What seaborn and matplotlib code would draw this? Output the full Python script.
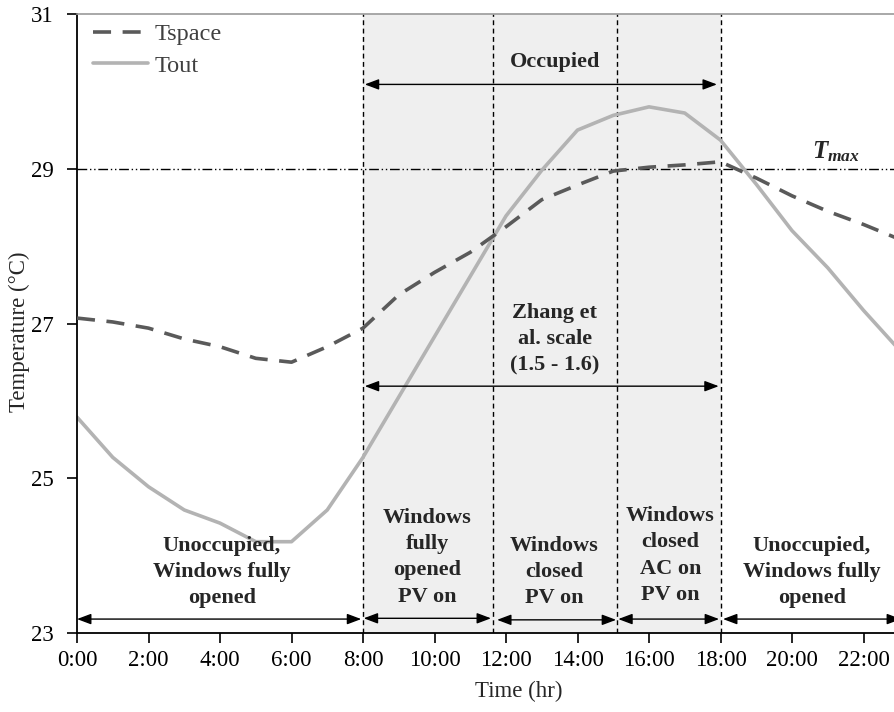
import matplotlib
matplotlib.use("Agg")
import matplotlib.pyplot as plt
import seaborn as sns
import pandas as pd

# ---- data ----
hours = list(range(24))
tspace = [27.07, 27.02, 26.94, 26.80, 26.70, 26.55, 26.50, 26.70, 26.94, 27.37,
          27.66, 27.92, 28.25, 28.60, 28.79, 28.97, 29.02, 29.05, 29.09, 28.88,
          28.65, 28.45, 28.28, 28.09]
tout = [25.79, 25.27, 24.89, 24.59, 24.42, 24.18, 24.18, 24.59, 25.27, 26.05,
        26.83, 27.61, 28.39, 28.98, 29.50, 29.69, 29.80, 29.72, 29.37, 28.80,
        28.20, 27.72, 27.17, 26.66]
xtick_pos = list(range(0, 24, 2))
xtick_labels = [f"{h}:00" for h in xtick_pos]
ytick_pos = [23, 25, 27, 29, 31]
t_max = 29
phase_bounds = [8, 11.65, 15.1, 18]
occupied = (8, 18)

sns.set_style("ticks")
plt.rcParams['font.family'] = ['Liberation Serif', 'DejaVu Serif']
plt.rcParams['mathtext.fontset'] = 'custom'
plt.rcParams['mathtext.it'] = 'Liberation Serif:italic:bold'
plt.rcParams['mathtext.rm'] = 'Liberation Serif'

fig = plt.figure(figsize=(8.94, 7.12), dpi=100)
ax = fig.add_axes([77/894, 79/712, 858/894, 619/712])

ax.axvspan(occupied[0], occupied[1], color='#efefef', zorder=0, lw=0)
for xb in phase_bounds:
    ax.axvline(xb, color='black', lw=1.0, linestyle=(0, (3.5, 2.5)), zorder=1)
ax.axhline(t_max, color='black', lw=1.0, linestyle=(0, (7, 2, 1, 2, 1, 2)), zorder=1)

df = pd.DataFrame({'hour': hours, 'Tspace': tspace, 'Tout': tout})
sns.lineplot(data=df, x='hour', y='Tspace', ax=ax, color='#5a5a5a', lw=2.6,
             linestyle=(0, (5, 3.2)), label='Tspace', zorder=3)
sns.lineplot(data=df, x='hour', y='Tout', ax=ax, color='#b3b3b3', lw=2.6,
             label='Tout', zorder=2)

ax.set_xlim(0, 24)
ax.set_ylim(23, 31)
ax.set_xticks(xtick_pos)
ax.set_xticklabels(xtick_labels)
ax.set_yticks(ytick_pos)
ax.tick_params(axis='both', direction='out', length=7, width=1.2, labelsize=16.5,
               colors='black')
ax.tick_params(axis='y', pad=10)
ax.tick_params(axis='x', pad=5)

ax.spines['right'].set_visible(False)
ax.spines['top'].set_color('#9a9a9a')
ax.spines['top'].set_linewidth(1.2)
for s in ['left', 'bottom']:
    ax.spines[s].set_color('black')
    ax.spines[s].set_linewidth(1.3)

ax.set_xlabel('Time (hr)', fontsize=16.5)
ax.set_ylabel('Temperature (°C)', fontsize=16.5)
ax.xaxis.set_label_coords(0.515, -0.077)
ax.yaxis.set_label_coords(-0.055, 0.486)

leg = ax.legend(loc='upper left', bbox_to_anchor=(0.0186, 0.985), frameon=False,
                fontsize=17.5, handlelength=2.25, handletextpad=0.3,
                borderpad=0, borderaxespad=0, labelspacing=0.38)
for t in leg.get_texts():
    t.set_color('#404040')

arrow_kw = dict(arrowstyle='<|-|>,head_length=0.85,head_width=0.32',
                color='black', lw=1.0, shrinkA=0, shrinkB=0, mutation_scale=10)

def darrow(x0, x1, y):
    ax.annotate('', xy=(x1, y), xytext=(x0, y), arrowprops=arrow_kw, zorder=4)

darrow(8.05, 17.9, 30.09)
darrow(8.05, 17.95, 26.19)
darrow(0.0, 7.95, 23.18)
darrow(8.02, 11.58, 23.19)
darrow(11.75, 15.08, 23.17)
darrow(15.14, 17.96, 23.18)
darrow(18.07, 23.05, 23.18)

bold = dict(fontsize=16, fontweight='bold', ha='center', va='center',
            linespacing=1.42, zorder=5)
ax.text(13.37, 30.38, 'Occupied', **bold)
ax.text(13.37, 26.8, 'Zhang et\nal. scale\n(1.5 - 1.6)', **bold)
ax.text(4.05, 23.79, 'Unoccupied,\nWindows fully\nopened', **bold)
ax.text(9.8, 23.98, 'Windows\nfully\nopened\nPV on', **bold)
ax.text(13.35, 23.79, 'Windows\nclosed\nPV on', **bold)
ax.text(16.6, 24.0, 'Windows\nclosed\nAC on\nPV on', **bold)
ax.text(20.55, 23.79, 'Unoccupied,\nWindows fully\nopened', **bold)
ax.text(21.23, 29.06, r'$T_{max}$', fontsize=18, ha='center', va='bottom', zorder=5)

fig.savefig('out.png', dpi=100)
